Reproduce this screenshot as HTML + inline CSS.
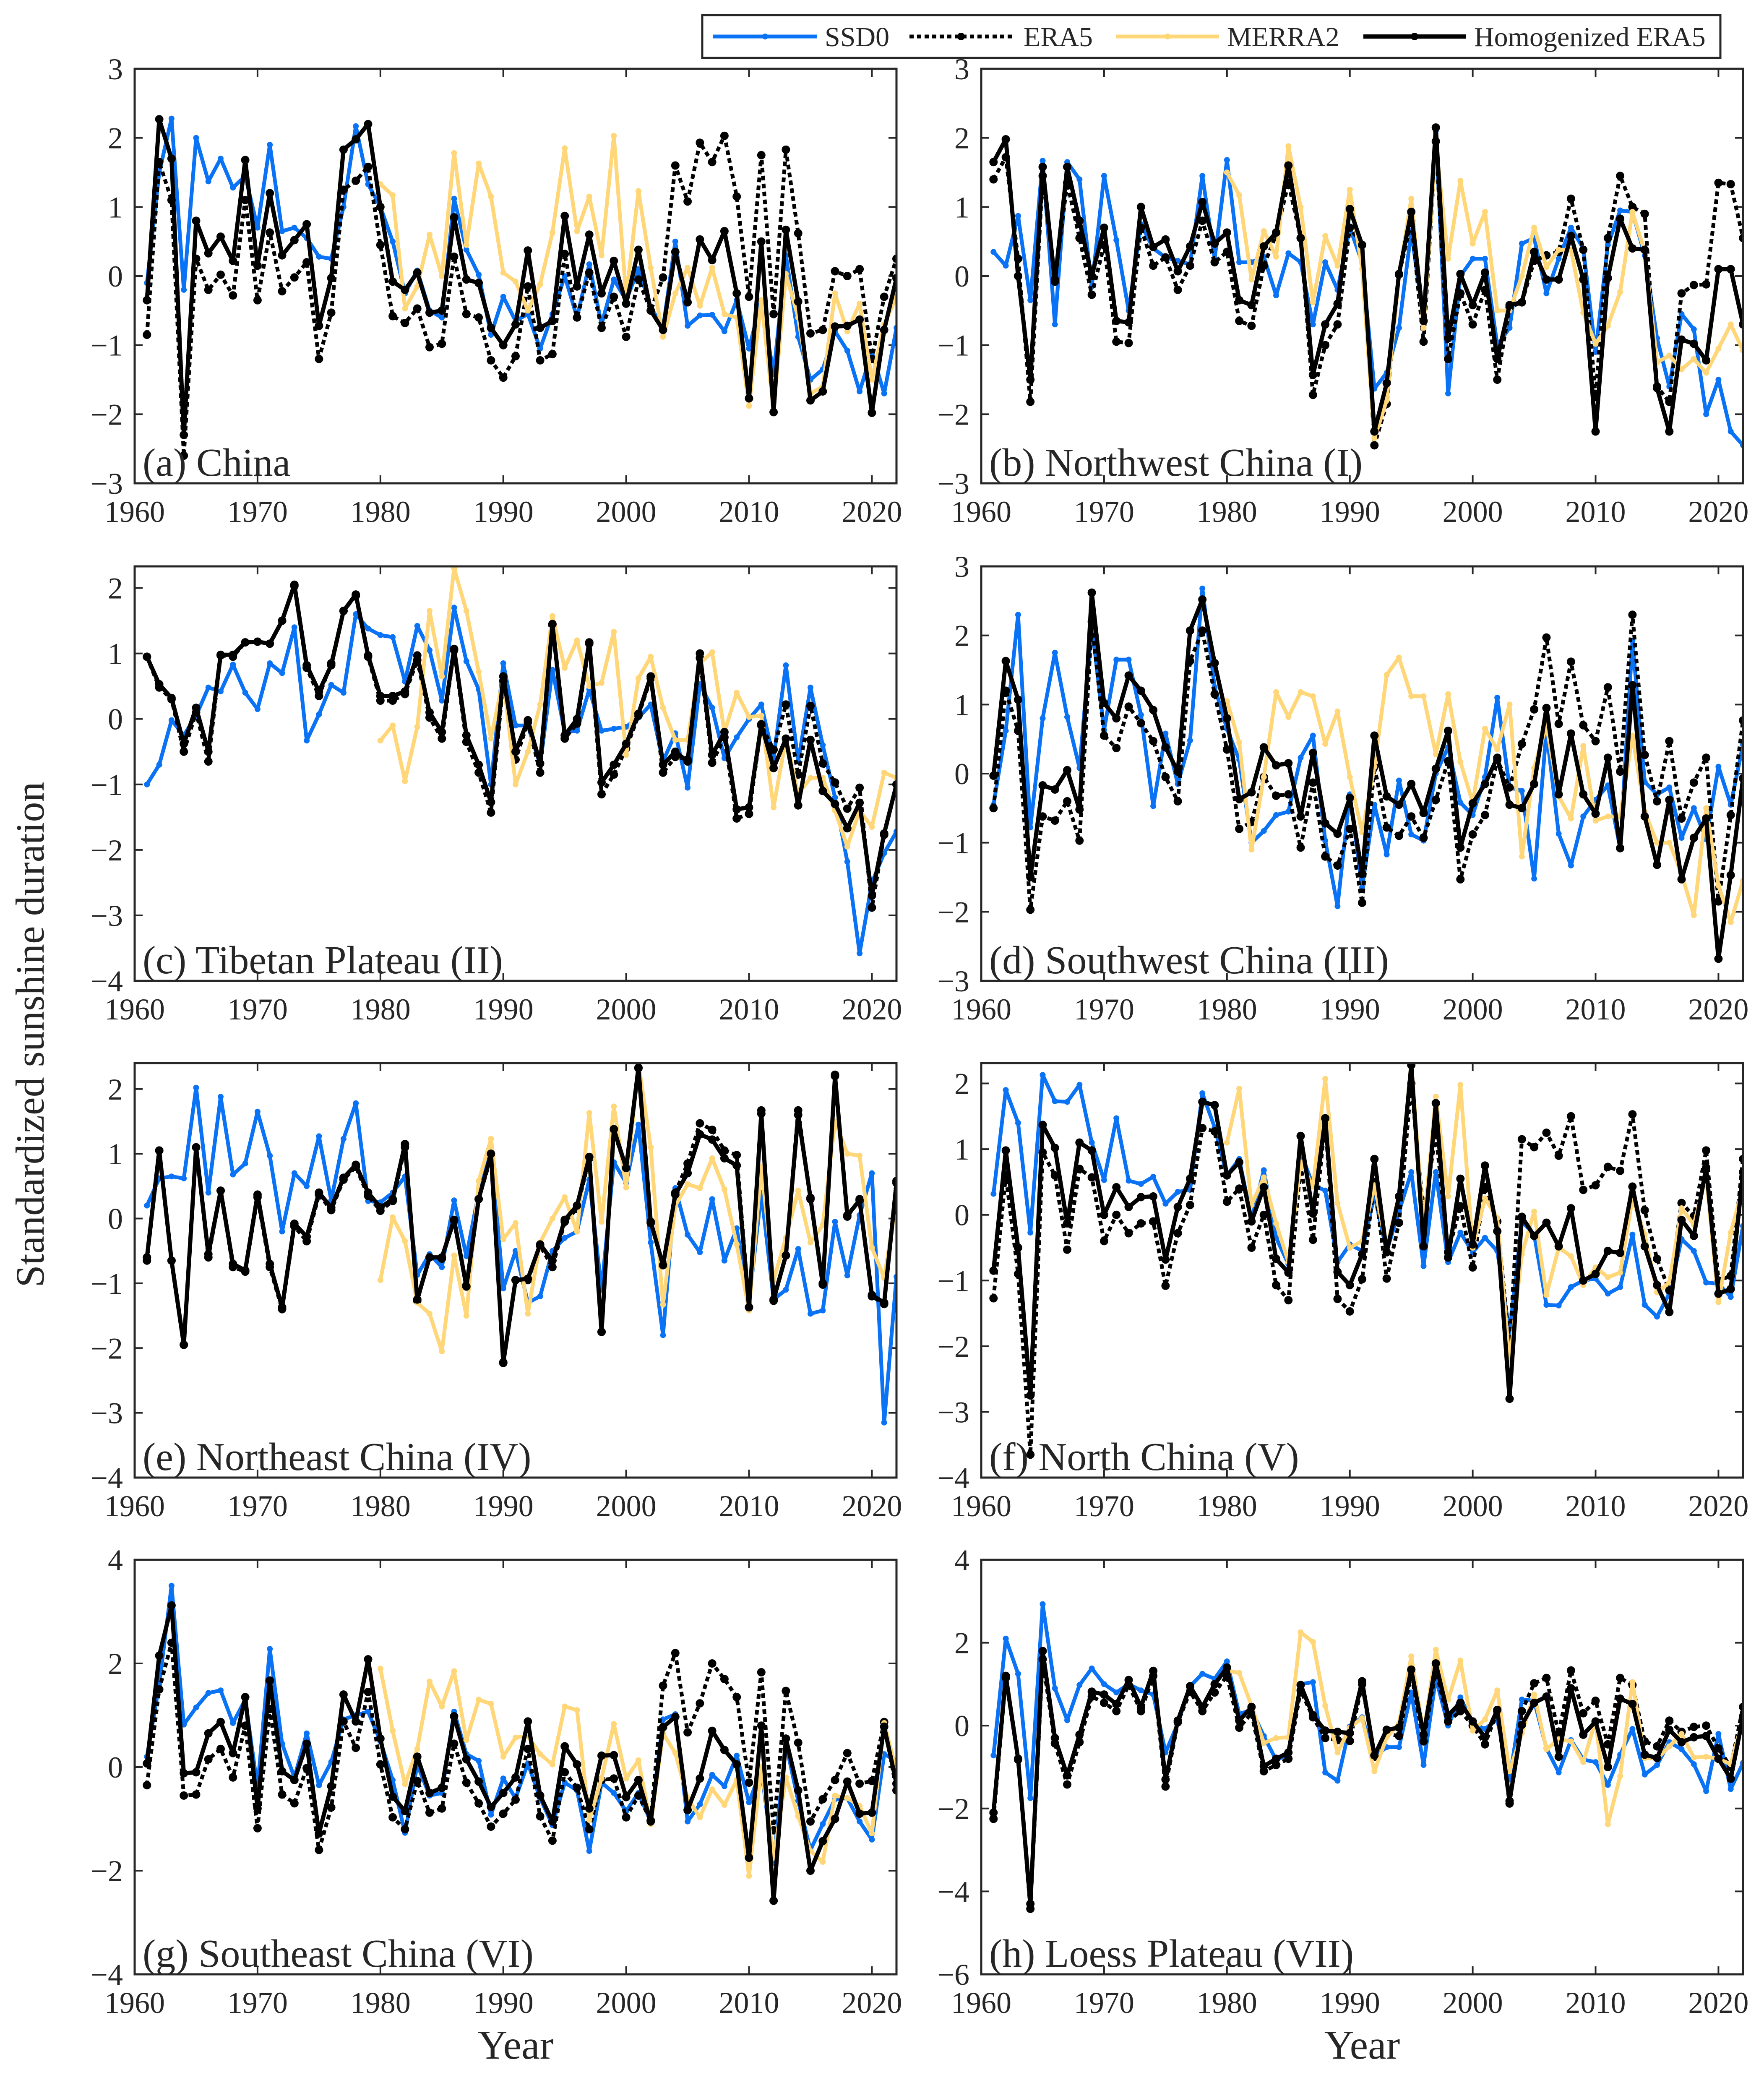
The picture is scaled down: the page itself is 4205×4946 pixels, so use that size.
<!DOCTYPE html>
<html>
<head>
<meta charset="utf-8">
<style>
html,body{margin:0;padding:0;background:#fff;}
svg{display:block;}
text{font-family:"Liberation Serif","Times New Roman",serif;fill:#262626;}
</style>
</head>
<body>
<svg id="fig" xmlns="http://www.w3.org/2000/svg" width="4205" height="4946" viewBox="0 0 4205 4946">
<rect x="0" y="0" width="4205" height="4946" fill="#fff"/>
<g id="legend">
  <rect x="1674" y="36" width="2427" height="102" fill="#fff" stroke="#262626" stroke-width="5"/>
  <g>
    <line x1="1700" y1="87" x2="1948" y2="87" stroke="#0a72f5" stroke-width="9"/>
    <circle cx="1824" cy="87" r="7" fill="#0a72f5"/>
    <text x="1966" y="110" font-size="66">SSD0</text>
  </g>
  <g>
    <line x1="2168" y1="87" x2="2415" y2="87" stroke="#000" stroke-width="9" stroke-dasharray="10 8"/>
    <circle cx="2291" cy="87" r="9" fill="#000"/>
    <text x="2440" y="110" font-size="66">ERA5</text>
  </g>
  <g>
    <line x1="2660" y1="87" x2="2906" y2="87" stroke="#ffd678" stroke-width="9"/>
    <circle cx="2783" cy="87" r="7" fill="#ffd678"/>
    <text x="2925" y="110" font-size="66">MERRA2</text>
  </g>
  <g>
    <line x1="3250" y1="87" x2="3495" y2="87" stroke="#000" stroke-width="10"/>
    <circle cx="3372" cy="87" r="9" fill="#000"/>
    <text x="3514" y="110" font-size="66">Homogenized ERA5</text>
  </g>
</g>
<text x="0" y="0" font-size="96" text-anchor="middle" transform="translate(104,2466) rotate(-90)">Standardized sunshine duration</text>
<text x="1229" y="4907" font-size="98" text-anchor="middle">Year</text>
<text x="3247" y="4907" font-size="98" text-anchor="middle">Year</text>
</svg>
<script>
const years = [];
for (let y = 1961; y <= 2022; y++) years.push(y);
const merraStartYear = 1980;

// (a) China
const ssd0A = [-0.1,1.5,2.28,-0.2,2.0,1.37,1.7,1.28,1.45,0.7,1.9,0.65,0.7,0.55,0.28,0.25,1.0,2.17,1.33,1.0,0.5,-0.25,0.08,-0.5,-0.6,1.12,0.38,0.02,-0.85,-0.3,-0.65,-0.55,-1.05,-0.55,0.0,-0.6,0.17,-0.7,-0.05,-0.35,0.1,-0.45,-0.75,0.5,-0.72,-0.57,-0.56,-0.8,-0.35,-1.05,-0.35,-1.42,0.3,-0.88,-1.5,-1.35,-0.8,-1.08,-1.67,-1.1,-1.7,-0.75];
const era5A = [-0.85,1.65,1.1,-2.6,0.25,-0.2,0.02,-0.28,1.1,-0.35,0.63,-0.22,-0.02,0.2,-1.2,-0.53,1.25,1.38,1.58,0.45,-0.58,-0.68,-0.47,-1.03,-0.98,0.28,-0.55,-0.6,-1.22,-1.47,-1.16,-0.15,-1.22,-1.13,0.32,-0.6,0.05,-0.75,-0.3,-0.88,-0.05,-0.5,-0.02,1.6,1.08,1.93,1.65,2.03,1.15,-0.3,1.75,-0.55,1.83,0.62,-0.83,-0.78,0.07,0.0,0.1,-1.2,-0.3,0.25];
const merra2A = [1.33,1.17,-0.47,-0.15,0.6,0.0,1.78,0.45,1.63,1.15,0.05,-0.08,-0.5,-0.12,0.63,1.85,0.65,1.15,0.3,2.03,-0.3,1.23,0.12,-0.88,-0.25,0.12,-0.43,0.12,-0.55,-0.6,-1.88,-0.35,-1.95,0.03,-0.6,-1.7,-1.6,-0.25,-0.8,-0.4,-1.5,-0.7,-0.3];
const homogA = [-0.35,2.27,1.7,-2.3,0.8,0.33,0.57,0.22,1.68,0.15,1.2,0.3,0.52,0.75,-0.72,-0.03,1.83,1.98,2.2,1.0,-0.08,-0.2,0.05,-0.53,-0.5,0.85,-0.05,-0.1,-0.75,-1.0,-0.7,0.37,-0.75,-0.65,0.87,-0.15,0.6,-0.25,0.22,-0.4,0.38,-0.5,-0.78,0.35,-0.38,0.53,0.23,0.65,-0.25,-1.77,0.5,-1.97,0.67,-0.37,-1.8,-1.67,-0.73,-0.72,-0.63,-1.98,-0.78,-0.03];

// (b) Northwest China (I)
const ssd0B = [0.35,0.15,0.87,-0.35,1.67,-0.7,1.65,1.4,-0.15,1.45,0.52,-0.5,0.75,0.4,0.27,0.22,0.17,1.45,0.25,1.68,0.2,0.2,0.28,-0.28,0.33,0.2,-0.7,0.2,-0.2,0.7,0.2,-1.63,-1.4,-0.75,0.65,-0.65,2.1,-1.7,0.0,0.25,0.25,-1.0,-0.75,0.47,0.55,-0.25,0.25,0.7,0.4,-1.1,0.45,0.95,0.93,0.3,-0.9,-1.6,-0.55,-0.77,-2.0,-1.5,-2.25,-2.45];
const era5B = [1.4,1.72,0.25,-1.82,1.45,-0.05,1.35,0.55,-0.27,0.45,-0.95,-0.97,0.7,0.15,0.27,-0.2,0.15,0.8,0.2,0.35,-0.65,-0.72,0.15,0.6,1.35,0.55,-1.72,-1.0,-0.7,0.7,0.45,-2.45,-1.85,0.02,0.8,-0.95,1.95,-1.2,-0.25,-0.7,-0.2,-1.5,-0.45,-0.38,0.22,0.3,0.35,1.12,0.38,-1.75,0.55,1.45,1.0,0.9,-1.6,-1.82,-0.25,-0.13,-0.12,1.35,1.33,0.55];
const merra2B = [1.5,1.17,-0.05,0.65,0.28,1.88,1.0,-0.38,0.58,0.15,1.25,0.1,-2.35,-1.8,0.0,1.12,-0.75,1.92,0.25,1.38,0.47,0.93,-0.5,-0.5,0.0,0.7,0.13,0.38,0.38,-0.53,-0.98,-0.72,-0.23,0.93,0.35,-1.25,-1.15,-1.35,-1.2,-1.4,-1.05,-0.7,-1.08];
const homogB = [1.65,1.98,0.0,-1.5,1.58,-0.08,1.58,0.8,0.0,0.7,-0.65,-0.67,1.0,0.42,0.53,0.07,0.43,1.07,0.47,0.63,-0.35,-0.42,0.43,0.63,1.6,0.55,-1.43,-0.7,-0.4,0.97,0.45,-2.25,-1.55,0.03,0.93,-0.65,2.15,-0.9,0.03,-0.42,0.05,-1.2,-0.42,-0.38,0.35,-0.05,-0.05,0.58,-0.05,-2.25,-0.03,0.83,0.4,0.38,-1.62,-2.25,-0.92,-0.98,-1.22,0.1,0.1,-0.7];

// (c) Tibetan Plateau (II)
const ssd0C = [-1.0,-0.7,-0.02,-0.25,0.05,0.48,0.42,0.83,0.4,0.15,0.85,0.7,1.4,-0.33,0.07,0.52,0.4,1.6,1.38,1.28,1.25,0.57,1.42,1.05,0.28,1.7,0.88,0.45,-1.0,0.85,-0.1,-0.1,-0.7,0.75,-0.2,-0.18,0.45,-0.18,-0.15,-0.12,0.02,0.22,-0.65,-0.22,-1.05,0.53,0.17,-0.6,-0.28,0.0,0.22,-0.6,0.82,-0.65,0.48,-0.4,-1.2,-2.18,-3.58,-2.5,-2.05,-1.72];
const era5C = [0.95,0.48,0.3,-0.5,0.1,-0.65,0.97,0.95,1.17,1.18,1.15,1.5,2.03,0.78,0.35,0.85,1.65,1.88,0.95,0.28,0.28,0.38,0.9,0.02,-0.3,1.05,-0.35,-0.82,-1.43,0.58,-0.62,-0.05,-0.82,1.43,-0.3,-0.07,1.15,-1.15,-0.85,-0.45,0.05,0.62,-0.82,-0.58,-0.62,0.93,-0.67,-0.28,-1.52,-1.45,-0.1,-0.47,0.22,-0.85,0.2,-0.68,-0.97,-1.37,-1.05,-2.88,-1.77,-1.0];
const merra2C = [-0.33,-0.1,-0.95,-0.12,1.65,0.65,2.3,1.65,0.72,-0.3,0.62,-1.0,-0.5,0.22,1.57,0.78,1.2,0.5,0.55,1.33,-0.55,0.62,0.95,0.17,-0.32,-0.32,0.85,1.02,-0.2,0.4,0.03,0.05,-1.35,-0.3,-1.15,-0.9,-0.9,-1.4,-1.95,-1.4,-1.65,-0.82,-0.9];
const homogC = [0.95,0.53,0.32,-0.38,0.17,-0.5,0.98,0.98,1.17,1.18,1.15,1.5,2.05,0.82,0.42,0.82,1.65,1.9,0.97,0.35,0.35,0.42,0.97,0.1,-0.2,1.07,-0.25,-0.7,-1.27,0.65,-0.5,-0.02,-0.68,1.45,-0.25,0.0,1.17,-0.97,-0.7,-0.38,0.08,0.65,-0.7,-0.5,-0.65,1.0,-0.55,-0.2,-1.38,-1.35,-0.08,-0.75,-0.3,-1.32,-0.32,-1.1,-1.3,-1.67,-1.28,-2.7,-1.75,-1.0];

// (d) Southwest China (III)
const ssd0D = [-0.45,0.62,2.3,-0.78,0.8,1.75,0.82,0.08,2.15,0.63,1.65,1.65,0.85,-0.47,0.58,-0.15,0.48,2.68,1.25,0.65,0.2,-1.0,-0.83,-0.6,-0.55,0.23,0.55,-0.97,-1.92,-0.3,-1.65,-0.45,-1.17,-0.1,-0.88,-0.97,0.0,0.38,-0.42,-0.6,-0.05,1.1,-0.2,-0.25,-1.52,0.62,-0.87,-1.33,-0.62,-0.38,-0.17,-1.08,1.92,-0.12,-0.3,-0.2,-0.93,-0.5,-0.95,0.1,-0.45,0.42];
const era5D = [-0.5,1.2,0.62,-1.97,-0.62,-0.68,-0.4,-0.97,2.2,0.55,0.37,0.97,0.73,0.47,-0.05,-0.4,1.63,2.07,1.15,0.35,-0.8,-0.7,-0.05,-0.32,-0.3,-1.07,-0.13,-1.2,-1.33,-0.8,-1.87,0.1,-0.78,-0.9,-0.62,-0.93,-0.38,0.18,-1.53,-0.88,-0.6,0.2,-0.2,0.43,0.93,1.97,0.72,1.62,0.7,0.47,1.25,0.03,2.3,0.27,-0.4,0.47,-0.65,-0.13,0.23,-1.85,-0.6,0.77];
const merra2D = [1.05,0.45,-1.1,-0.05,1.18,0.82,1.18,1.12,0.43,0.9,-0.05,-0.85,0.1,1.43,1.68,1.12,1.12,0.28,1.15,0.17,-0.42,0.65,0.35,1.0,-1.2,0.08,0.7,-0.33,-0.65,0.4,-0.68,-0.62,-0.62,0.55,-0.55,-1.0,-1.0,-1.45,-2.05,-0.5,-1.62,-2.15,-1.55];
const homogD = [-0.03,1.63,1.07,-1.5,-0.17,-0.23,0.05,-0.52,2.62,1.02,0.8,1.42,1.2,0.92,0.38,0.03,2.07,2.52,1.6,0.8,-0.37,-0.27,0.38,0.12,0.15,-0.62,0.3,-0.72,-0.87,-0.35,-1.45,0.55,-0.33,-0.45,-0.15,-0.57,0.07,0.62,-1.07,-0.43,-0.15,0.23,-0.45,-0.5,-0.15,0.95,-0.3,0.58,-0.3,-0.58,0.23,-1.08,1.28,-0.62,-1.32,-0.38,-1.53,-0.93,-0.65,-2.68,-1.47,-0.07];

// (e) Northeast China (IV)
const ssd0E = [0.2,0.62,0.65,0.62,2.02,0.4,1.88,0.68,0.85,1.65,0.97,-0.2,0.7,0.5,1.27,0.28,1.23,1.78,0.27,0.25,0.4,0.65,-0.87,-0.55,-0.75,0.28,-0.58,0.4,1.05,-1.08,-0.5,-1.3,-1.2,-0.5,-0.3,-0.2,0.6,-1.1,0.87,0.55,1.45,-0.37,-1.8,0.47,-0.25,-0.52,0.3,-0.65,-0.15,-1.3,0.4,-1.25,-1.1,-0.47,-1.47,-1.42,-0.05,-0.88,0.05,0.7,-3.15,-0.9];
const era5E = [-0.65,1.05,-0.65,-1.95,1.1,-0.6,0.43,-0.75,-0.82,0.33,-0.75,-1.4,-0.12,-0.35,0.37,0.13,0.6,0.8,0.35,0.12,0.27,1.1,-1.27,-0.6,-0.62,-0.03,-1.03,0.3,0.95,-2.22,-0.95,-0.95,-0.42,-0.75,-0.05,0.15,0.93,-1.75,1.35,0.77,2.32,-0.07,-0.7,0.4,0.85,1.47,1.37,1.05,0.98,-1.37,1.67,-1.27,-0.57,1.67,0.3,-1.0,2.22,0.03,0.3,-1.2,-1.32,0.58];
const merra2E = [-0.95,0.02,-0.35,-1.3,-1.47,-2.05,-0.57,-1.5,0.58,1.23,-0.32,-0.07,-1.47,-0.37,0.0,0.33,-0.2,1.63,-0.05,1.73,0.48,2.4,1.1,-1.33,0.2,0.53,0.47,0.93,0.45,-0.4,-1.42,0.8,-0.95,-0.3,0.43,-0.37,-0.1,1.5,1.0,0.97,-0.45,-0.92,0.28];
const homogE = [-0.6,1.05,-0.65,-1.95,1.1,-0.55,0.43,-0.7,-0.8,0.37,-0.7,-1.37,-0.08,-0.28,0.4,0.17,0.63,0.83,0.4,0.17,0.3,1.15,-1.25,-0.6,-0.6,-0.02,-1.05,0.3,1.0,-2.23,-0.95,-0.93,-0.4,-0.65,-0.02,0.2,0.95,-1.75,1.38,0.78,2.33,-0.05,-0.72,0.37,0.7,1.3,1.22,0.93,0.82,-1.37,1.62,-1.25,-0.57,1.6,0.32,-1.02,2.2,0.05,0.28,-1.18,-1.3,0.55];

// (f) North China (V)
const ssd0F = [0.32,1.9,1.4,-0.27,2.13,1.73,1.72,1.98,1.1,0.53,1.47,0.52,0.47,0.58,0.17,0.35,0.38,1.85,1.33,0.6,0.85,-0.07,0.68,-0.35,-0.75,0.95,0.45,0.37,-0.72,-0.45,-0.55,0.3,-0.55,0.05,0.65,-0.78,0.65,-0.72,-0.27,-0.57,-0.35,-0.55,-1.8,-0.1,-0.3,-1.37,-1.38,-1.1,-1.0,-0.97,-1.2,-1.1,-0.3,-1.37,-1.55,-1.2,-0.37,-0.55,-1.03,-1.05,-1.25,-0.17];
const era5F = [-1.27,0.6,-0.9,-3.65,0.95,0.6,-0.53,0.7,0.57,-0.4,0.0,-0.28,-0.13,-0.1,-1.08,-0.28,0.15,1.32,1.27,0.2,0.4,-0.5,0.0,-1.07,-1.3,0.75,-0.38,1.43,-1.28,-1.47,-0.98,0.5,-0.97,-0.12,2.0,0.0,1.25,-0.57,0.13,-0.8,0.42,-0.1,-2.0,1.15,1.03,1.25,0.9,1.5,0.38,0.45,0.73,0.67,1.53,0.07,-0.67,-1.15,0.18,-0.02,0.98,-1.0,-0.93,0.85];
const merra2F = [1.1,1.92,0.15,0.57,-0.13,-0.72,0.8,0.43,2.07,0.18,-0.5,-0.4,0.45,-0.5,0.3,2.33,-0.2,1.8,0.28,1.98,-0.5,0.25,-0.05,-2.25,-0.6,0.05,-1.22,-0.5,-0.63,-1.07,-0.8,-0.95,-0.88,0.25,-0.3,-1.18,-1.03,0.1,-0.15,0.6,-1.33,-0.27,0.42];
const homogF = [-0.85,0.98,-0.5,-2.75,1.37,1.02,-0.13,1.1,0.98,0.0,0.42,0.12,0.27,0.28,-0.68,0.12,0.55,1.72,1.67,0.6,0.8,-0.1,0.42,-0.67,-0.88,1.2,0.02,1.47,-0.87,-1.07,-0.6,0.85,-0.57,0.28,2.28,-0.48,1.7,-0.65,0.55,-0.45,0.75,-0.25,-2.8,-0.03,-0.32,-0.12,-0.48,0.1,-1.0,-0.9,-0.55,-0.58,0.43,-0.48,-1.07,-1.48,-0.08,-0.32,0.72,-1.2,-1.13,0.65];

// (g) Southeast China (VI)
const ssd0G = [0.2,1.6,3.5,0.82,1.15,1.43,1.48,0.85,1.3,-0.4,2.28,0.45,-0.2,0.65,-0.35,0.1,0.92,1.0,1.07,0.5,-0.25,-1.27,0.05,-0.55,-0.5,1.07,0.25,0.12,-0.92,-0.22,-0.6,0.07,-0.6,-1.12,-0.3,-0.45,-1.62,-0.3,-0.5,-0.85,-0.5,-1.05,0.92,1.02,-1.05,-0.72,-0.15,-0.37,0.22,-0.68,-0.05,-1.85,0.45,-0.65,-1.6,-1.1,-0.62,-0.6,-1.05,-1.4,0.25,0.12];
const era5G = [-0.35,1.5,2.4,-0.55,-0.53,0.15,0.35,-0.2,0.8,-1.18,1.12,-0.53,-0.7,-0.02,-1.6,-0.78,0.88,0.37,1.45,0.05,-0.97,-1.2,-0.27,-0.88,-0.8,0.45,-0.3,-0.7,-1.15,-0.9,-0.63,0.35,-0.95,-1.42,-0.1,-0.4,-1.2,-0.25,-0.22,-0.97,-0.55,-1.03,1.57,2.2,0.67,1.23,2.0,1.7,1.35,-0.3,1.83,-1.22,1.47,0.47,-1.05,-0.62,-0.25,0.27,-0.32,-0.27,0.87,-0.45];
const merra2G = [1.9,0.7,-0.33,0.35,1.65,1.17,1.85,0.52,1.3,1.22,0.2,0.57,0.6,0.25,0.05,1.17,1.1,-1.02,-0.22,0.83,-0.22,0.13,-1.1,0.65,0.27,-0.6,-0.97,-0.43,-0.73,-0.25,-2.1,0.0,-1.75,-0.2,-0.95,-1.62,-1.83,-0.55,-0.6,-0.75,-1.28,0.85,-0.08];
const homogG = [0.07,2.15,3.12,-0.12,-0.1,0.65,0.87,0.27,1.35,-0.8,1.67,-0.08,-0.25,0.45,-1.28,-0.37,1.4,0.88,2.08,0.55,-0.57,-0.85,0.2,-0.5,-0.4,0.98,0.15,-0.28,-0.77,-0.5,-0.2,0.88,-0.55,-1.05,0.4,0.05,-0.8,0.22,0.23,-0.58,-0.25,-1.05,0.77,0.97,-0.83,-0.22,0.7,0.33,0.05,-1.75,0.8,-2.58,0.55,-0.45,-2.0,-1.43,-1.0,-0.28,-0.9,-0.88,0.78,-0.32];

// (h) Loess Plateau (VII)
const ssd0H = [-0.72,2.1,1.25,-1.75,2.93,0.9,0.13,0.98,1.38,1.0,0.8,1.0,0.85,0.75,-0.65,0.05,0.95,1.25,1.13,1.55,0.28,0.38,-0.25,-0.83,-0.7,1.0,1.05,-1.13,-1.33,-0.02,0.2,-0.75,-0.52,-0.52,0.8,-0.95,1.15,0.0,0.68,0.05,-0.08,0.15,-1.3,0.63,0.6,-0.55,-1.13,-0.35,-0.82,-0.88,-1.43,-0.7,-0.08,-1.18,-0.95,-0.4,-0.57,-0.93,-1.58,-0.2,-1.53,-0.9];
const era5H = [-2.25,1.15,-0.82,-4.42,1.6,-0.43,-1.42,-0.4,0.7,0.55,0.35,0.98,0.35,1.2,-1.47,0.08,0.82,0.35,0.8,1.2,-0.05,0.3,-1.1,-0.95,-0.8,0.85,0.2,-0.3,-0.35,-0.37,1.0,-0.75,-0.2,-0.25,1.25,-0.38,1.35,0.1,0.35,0.0,-0.45,0.35,-1.88,0.35,1.02,1.15,-0.2,1.33,0.3,0.6,-0.45,1.15,0.98,-0.38,-0.5,0.12,-0.15,-0.03,0.0,-0.55,-1.0,0.45];
const merra2H = [1.33,1.27,0.48,-0.42,-0.3,-0.28,2.25,2.02,0.48,-0.65,-0.05,0.18,-1.1,-0.28,0.05,1.67,-0.2,1.83,0.62,1.57,-0.12,0.15,0.85,-1.1,-0.18,0.75,-0.57,-0.33,-0.38,-0.88,0.12,-2.38,-1.22,1.05,-0.78,-0.8,-0.5,-0.2,-0.77,-0.75,-0.8,-0.93,0.15];
const homogH = [-2.1,1.2,-0.8,-4.3,1.8,-0.3,-1.2,-0.22,0.82,0.75,0.52,1.1,0.45,1.32,-1.3,0.12,0.95,0.45,1.0,1.4,0.12,0.45,-0.98,-0.8,-0.65,0.98,0.25,-0.12,-0.15,-0.18,1.07,-0.72,-0.1,-0.05,1.35,-0.22,1.5,0.25,0.55,0.1,-0.28,0.38,-1.82,0.02,0.55,0.7,-0.75,0.9,-0.22,0.1,-1.0,0.65,0.52,-0.7,-0.78,-0.1,-0.4,-0.28,-0.25,-0.8,-1.28,0.22];

const panelLabels = ["(a) China","(b) Northwest China (I)","(c) Tibetan Plateau (II)","(d) Southwest China (III)","(e) Northeast China (IV)","(f) North China (V)","(g) Southeast China (VI)","(h) Loess Plateau (VII)"];
const panelKeys = ["a","b","c","d","e","f","g","h"];
const yLimits = [[-3,3],[-3,3],[-4,2.33],[-3,3],[-4,2.4],[-4,2.31],[-4,4],[-6,4]];
const yTickValues = [[-3,-2,-1,0,1,2,3],[-3,-2,-1,0,1,2,3],[-4,-3,-2,-1,0,1,2],[-3,-2,-1,0,1,2,3],[-4,-3,-2,-1,0,1,2],[-4,-3,-2,-1,0,1,2],[-4,-2,0,2,4],[-6,-4,-2,0,2,4]];
const xTickValues = [1960,1970,1980,1990,2000,2010,2020];
const ssd0All = [ssd0A,ssd0B,ssd0C,ssd0D,ssd0E,ssd0F,ssd0G,ssd0H];
const era5All = [era5A,era5B,era5C,era5D,era5E,era5F,era5G,era5H];
const merra2All = [merra2A,merra2B,merra2C,merra2D,merra2E,merra2F,merra2G,merra2H];
const homogAll = [homogA,homogB,homogC,homogD,homogE,homogF,homogG,homogH];

const NS = "http://www.w3.org/2000/svg";
const svg = document.getElementById("fig");
function mk(tag, attrs, parent) {
  const e = document.createElementNS(NS, tag);
  for (const k in attrs) e.setAttribute(k, attrs[k]);
  parent.appendChild(e);
  return e;
}
const colLeft = [321, 2339];
const rowTop = [164, 1350, 2534, 3718];
const axW = 1816, axH = 988;
const xMin = 1960, xMax = 2022;

for (let p = 0; p < 8; p++) {
  const L = colLeft[p % 2], T = rowTop[Math.floor(p / 2)];
  const [y0, y1] = yLimits[p];
  const sx = v => L + (v - xMin) / (xMax - xMin) * axW;
  const sy = v => T + axH - (v - y0) / (y1 - y0) * axH;
  const g = mk("g", {}, svg);
  
  
  const clipId = "clip" + p;
  const cp = mk("clipPath", {id: clipId}, g);
  mk("rect", {x: L, y: T, width: axW, height: axH}, cp);

  const tg = mk("g", {stroke: "#262626", "stroke-width": 4}, g);
  
  
  xTickValues.forEach(v => {
    const x = sx(v);
    mk("line", {x1: x, y1: T + axH, x2: x, y2: T + axH - 19}, tg);
    mk("line", {x1: x, y1: T, x2: x, y2: T + 19}, tg);
    const t = mk("text", {x: x, y: T + axH + 92, "font-size": 72, "text-anchor": "middle", stroke: "none"}, g);
    t.textContent = v;
    
    
  });
  yTickValues[p].forEach(v => {
    const y = sy(v);
    mk("line", {x1: L, y1: y, x2: L + 19, y2: y}, tg);
    mk("line", {x1: L + axW, y1: y, x2: L + axW - 19, y2: y}, tg);
    const t = mk("text", {x: L - 28, y: y + 25, "font-size": 72, "text-anchor": "end"}, g);
    t.textContent = v < 0 ? "\u2212" + Math.abs(v) : String(v);
    
    
  });

  const series = [
    {d: ssd0All[p], start: 1961, color: "#0a72f5", w: 9, r: 7, dash: null, name: "ssd0"},
    {d: era5All[p], start: 1961, color: "#000", w: 9, r: 10, dash: "11 8", name: "era5"},
    {d: merra2All[p], start: merraStartYear, color: "#ffd678", w: 9, r: 7, dash: null, name: "merra2"},
    {d: homogAll[p], start: 1961, color: "#000", w: 10, r: 10, dash: null, name: "homogenized-era5"}
  ];
  series.forEach(s => {
    const sg = mk("g", {"clip-path": "url(#" + clipId + ")"}, g);
    
    
    const pts = s.d.map((v, i) => sx(s.start + i).toFixed(1) + "," + sy(v).toFixed(1)).join(" ");
    const attrs = {points: pts, fill: "none", stroke: s.color, "stroke-width": s.w, "stroke-linejoin": "round"};
    if (s.dash) attrs["stroke-dasharray"] = s.dash;
    const pl = mk("polyline", attrs, sg);
    
    
    s.d.forEach((v, i) => {
      const c = mk("circle", {cx: sx(s.start + i).toFixed(1), cy: sy(v).toFixed(1), r: s.r, fill: s.color}, sg);
      
      
    });
  });

  const lab = mk("text", {x: L + 19, y: T + axH - 18, "font-size": 94}, g);
  lab.textContent = panelLabels[p];
  
  

  const box = mk("rect", {x: L, y: T, width: axW, height: axH, fill: "none", stroke: "#262626", "stroke-width": 5}, g);
  
  
}
</script>
</body>
</html>
